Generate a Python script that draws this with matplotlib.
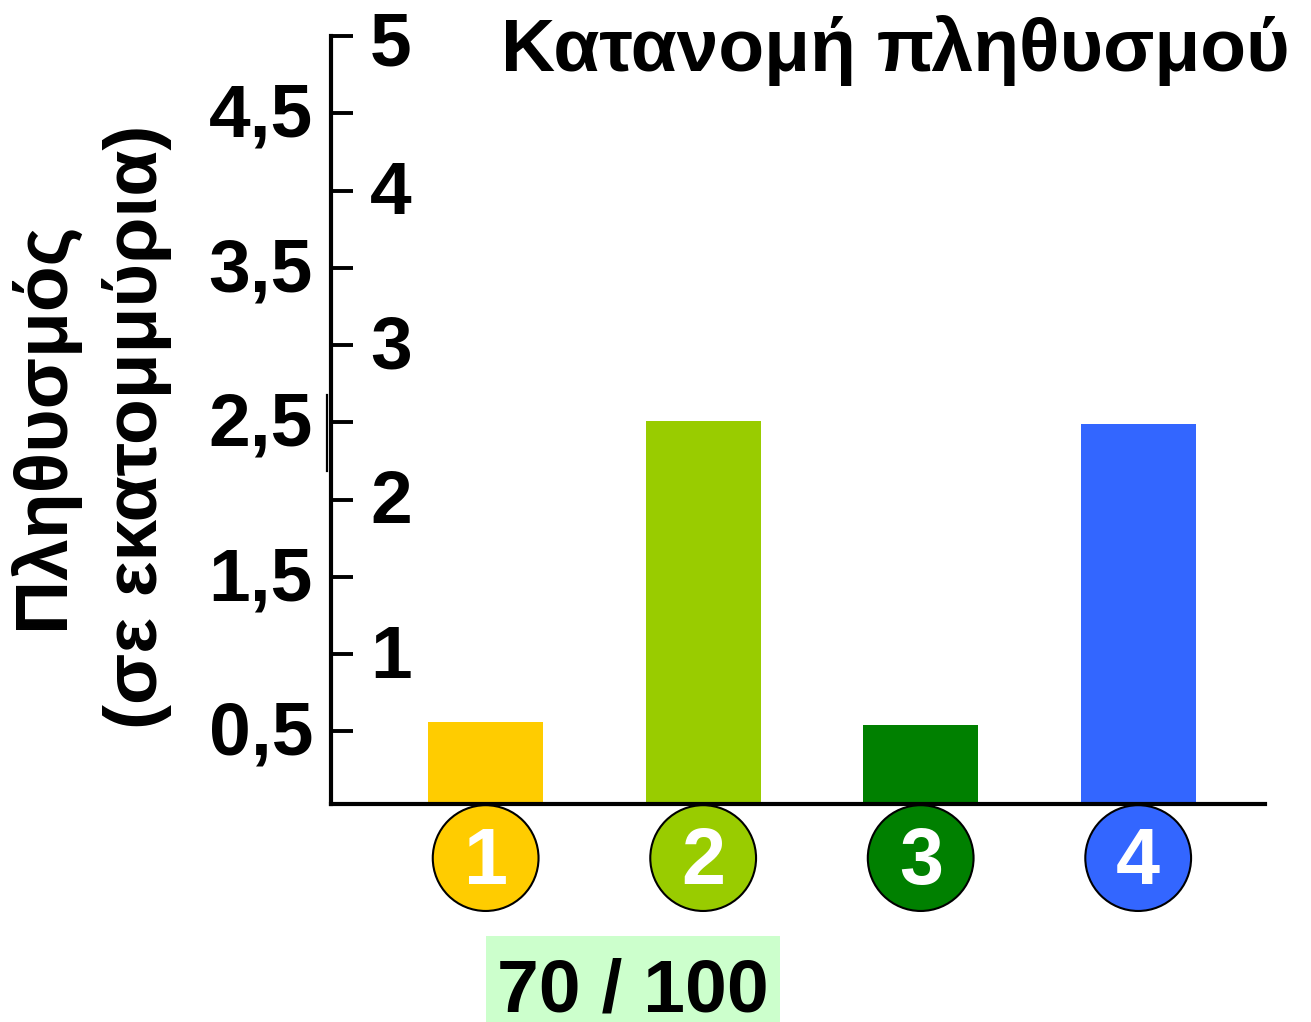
import matplotlib
matplotlib.use("Agg")
import matplotlib.pyplot as plt
from matplotlib.lines import Line2D
from matplotlib.transforms import blended_transform_factory, offset_copy

plt.rcParams['font.family'] = ['Liberation Sans', 'DejaVu Sans']
plt.rcParams['font.weight'] = 'bold'

categories = ['1', '2', '3', '4']
values = [0.56, 2.51, 0.54, 2.49]
colors = ['#FFCC00', '#99CC00', '#008000', '#3366FF']
yticks = [0.5, 1, 1.5, 2, 2.5, 3, 3.5, 4, 4.5, 5]
ytick_labels = ['0,5', '1', '1,5', '2', '2,5', '3', '3,5', '4', '4,5', '5']
title = 'Κατανομή πληθυσμού'
ylabel_lines = ['Πληθυσμός', '(σε εκατομμύρια)']
score_text = '70 / 100'

W, H = 1311, 1022
fig = plt.figure(figsize=(W / 100, H / 100), dpi=100)
ax = fig.add_axes([331 / W, 1 - 804 / H, (1265 - 331) / W, (804 - 36) / H])

x = list(range(1, len(categories) + 1))
ax.bar(x, values, width=0.53, color=colors, zorder=2)
ax.set_xlim(0.289, 4.583)
ax.set_ylim(0.03, 5)

for s in ['top', 'right']:
    ax.spines[s].set_visible(False)
for s in ['left', 'bottom']:
    ax.spines[s].set_linewidth(3)
ax.set_xticks([])
ax.set_yticks(yticks, labels=[])
ax.tick_params(axis='y', direction='in', length=16, width=2.8, colors='black')

tr = blended_transform_factory(fig.transFigure, ax.transData)
ymax = max(yticks)
for t, lab in zip(yticks, ytick_labels):
    dy = -10 if t == ymax else -4
    ttr = offset_copy(tr, fig=fig, x=0, y=dy, units='dots')
    if float(t).is_integer():
        ax.text(370 / W, t, lab, transform=ttr, ha='left', va='center',
                fontsize=54, fontweight='bold')
    else:
        ax.text(313 / W, t, lab, transform=ttr, ha='right', va='center',
                fontsize=54, fontweight='bold')

# circles with numbers
ax.scatter(x, [-0.32] * len(x), s=5800, c=colors, edgecolors='black',
           linewidths=1.5, clip_on=False, zorder=3)
ntr = offset_copy(ax.transData, fig=fig, x=0, y=-5, units='dots')
for xi, lab in zip(x, categories):
    ax.text(xi, -0.32, lab, transform=ntr, ha='center', va='center', color='white',
            fontsize=57, fontweight='bold', clip_on=False, zorder=4)

# title
fig.text(1290 / W, 1 - 50 / H, title, ha='right', va='center',
         fontsize=54, fontweight='bold')

# y label
fig.text(42 / W, 1 - 425 / H, ylabel_lines[0], rotation=90, ha='center',
         va='center', fontsize=54, fontweight='bold')
fig.text(137 / W, 1 - 427 / H, ylabel_lines[1], rotation=90, ha='center',
         va='center', fontsize=54, fontweight='bold')

# score box
fig.patches.append(matplotlib.patches.Rectangle(
    (486 / W, 0), (780 - 486) / W, (1022 - 936) / H, transform=fig.transFigure,
    facecolor='#CCFFCC', edgecolor='none', zorder=0))
fig.text(633 / W, 1 - 992 / H, score_text, ha='center', va='center',
         fontsize=54, fontweight='bold')

# small vertical mark left of the axis
fig.add_artist(Line2D([327 / W, 327 / W], [1 - 395 / H, 1 - 471 / H],
                      transform=fig.transFigure, color='black', linewidth=1.6))

fig.savefig('out.png', dpi=100)
